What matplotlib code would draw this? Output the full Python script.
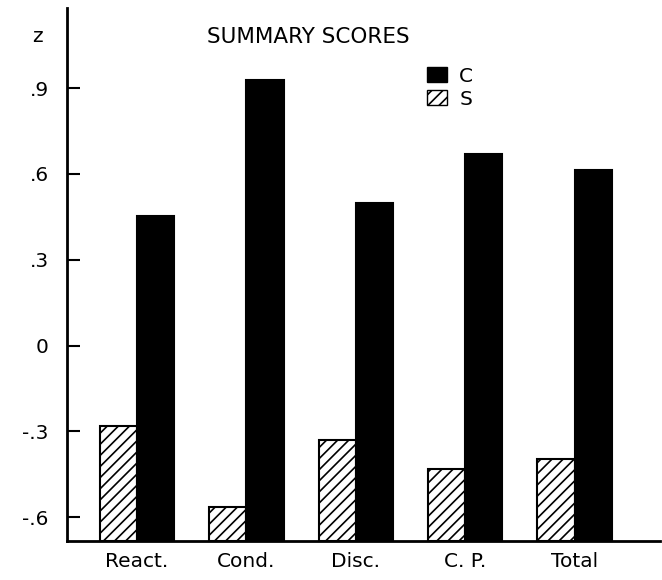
import numpy as np
import matplotlib
matplotlib.use("Agg")
import matplotlib.pyplot as plt
from matplotlib.patches import Patch

# ------------ data ----------
categories = ["React.", "Cond.", "Disc.", "C. P.", "Total"]
c_scores = [0.452, 0.928, 0.500, 0.669, 0.613]
s_scores = [-0.282, -0.565, -0.330, -0.430, -0.397]
ytick_vals = [0.9, 0.6, 0.3, 0.0, -0.3, -0.6]
ytick_labels = [".9", ".6", ".3", "0", "-.3", "-.6"]

baseline = -0.684
plt.rcParams['hatch.linewidth'] = 1.2

fig = plt.figure(figsize=(6.62, 5.80), dpi=100)
ax = fig.add_axes([0.101, 0.067, 0.896, 0.919])

x = np.arange(len(categories))
w = 0.34
ax.bar(x - w / 2, np.array(s_scores) - baseline, w, bottom=baseline,
       color="white", edgecolor="black", hatch="///", linewidth=1.5, label="S")
ax.bar(x + w / 2, np.array(c_scores) - baseline, w, bottom=baseline,
       color="black", edgecolor="black", linewidth=1.5, label="C")

ax.set_xlim(-0.64, 4.78)
ax.set_ylim(baseline, 1.18)
for side in ("top", "right"):
    ax.spines[side].set_visible(False)
for side in ("left", "bottom"):
    ax.spines[side].set_linewidth(2)

ax.set_yticks(ytick_vals)
ax.set_yticklabels(ytick_labels)
ax.tick_params(axis="y", direction="in", length=9.5, width=1.5, pad=13, labelsize=14.5)
ax.set_xticks(x)
ax.set_xticklabels(categories)
ax.tick_params(axis="x", length=0, pad=8, labelsize=14.5)

ax.text(-0.86, 1.08, "z", ha="right", va="center", fontsize=14.5)
ax.text(1.57, 1.08, "SUMMARY SCORES", ha="center", va="center", fontsize=15.5)

handles = [Patch(facecolor="black", edgecolor="black", label="C"),
           Patch(facecolor="white", edgecolor="black", hatch="///", label="S")]
ax.legend(handles=handles, loc="upper left", bbox_to_anchor=(0.607, 0.89),
          frameon=False, fontsize=14.5, handlelength=1.0, handleheight=0.8,
          handletextpad=0.6, labelspacing=0.2, borderpad=0, borderaxespad=0)

fig.savefig("out.png", dpi=100)
